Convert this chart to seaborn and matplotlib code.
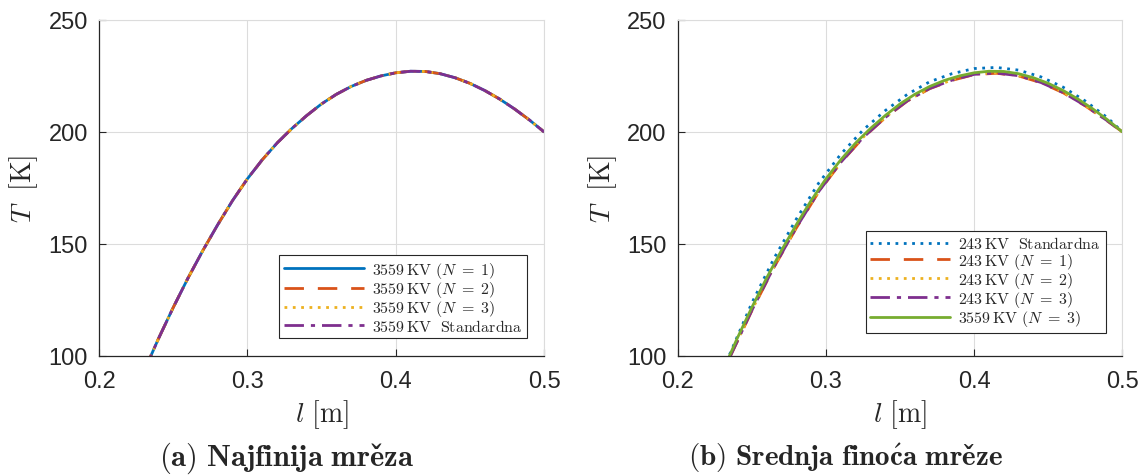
import matplotlib
matplotlib.use('Agg')
import matplotlib.pyplot as plt
import seaborn as sns
import numpy as np

# fine mesh (3559 KV) - all variants overlap
l_fine = [0.23, 0.24, 0.25, 0.26, 0.27, 0.28, 0.29, 0.30, 0.31, 0.32, 0.33, 0.34, 0.35, 0.36,
          0.37, 0.38, 0.39, 0.40, 0.41, 0.42, 0.43, 0.44, 0.45, 0.46, 0.47, 0.48, 0.49, 0.50]
T_fine = [92.5, 107.5, 121.5, 134.7, 147.0, 158.5, 169.3, 179.0, 187.5, 195.0, 201.5, 207.3, 212.5, 216.8,
          220.3, 223.0, 225.0, 226.4, 227.1, 227.0, 226.0, 224.2, 221.7, 218.5, 214.7, 210.3, 205.4, 200.0]

# medium mesh (243 KV)
l_243 = [0.235, 0.25, 0.265, 0.28, 0.295, 0.31, 0.325, 0.34, 0.355, 0.37,
         0.385, 0.40, 0.415, 0.43, 0.445, 0.46, 0.475, 0.49, 0.50]
T_243_std = [100.5, 123.5, 143.5, 161.0, 177.0, 190.0, 200.8, 209.5, 216.8, 222.4,
             226.0, 228.3, 228.8, 227.6, 224.6, 220.0, 213.8, 206.3, 200.0]
T_243_n1 = [99.0, 120.0, 139.5, 157.0, 173.0, 186.2, 197.3, 206.3, 213.8, 219.3,
            223.0, 225.6, 226.2, 225.0, 222.0, 217.5, 211.6, 204.8, 200.0]
T_243_n2 = [99.2, 120.3, 139.8, 157.3, 173.3, 186.5, 197.5, 206.5, 214.0, 219.5,
            223.2, 225.8, 226.4, 225.2, 222.2, 217.7, 211.8, 204.9, 200.0]
T_243_n3 = [99.1, 120.2, 139.7, 157.2, 173.2, 186.4, 197.4, 206.4, 213.9, 219.4,
            223.1, 225.7, 226.3, 225.1, 222.1, 217.6, 211.7, 204.9, 200.0]

blue, red, yellow, purple, green = '#0072BD', '#D95319', '#EDB120', '#7E2F8E', '#77AC30'

sns.set_theme(style='white')
plt.rcParams['font.family'] = ['Liberation Sans', 'DejaVu Sans']
plt.rcParams['mathtext.fontset'] = 'cm'

fig = plt.figure(figsize=(11.42, 4.77), dpi=100)
ax1 = fig.add_axes([0.0867, 0.2522, 0.3897, 0.7038])
ax2 = fig.add_axes([0.5934, 0.2522, 0.3894, 0.7038])

dashed = (0, (7, 5))
dotted = (0, (1, 2))
dashdot = (0, (7, 2.5, 1.5, 2.5))

# (a)
sns.lineplot(x=l_fine, y=T_fine, ax=ax1, color=blue, lw=2, ls='-', sort=False,
             label=r'$3559\,\mathrm{KV}\ (N\;=\;1)$')
sns.lineplot(x=l_fine, y=T_fine, ax=ax1, color=red, lw=2, ls=dashed, sort=False,
             label=r'$3559\,\mathrm{KV}\ (N\;=\;2)$')
sns.lineplot(x=l_fine, y=T_fine, ax=ax1, color=yellow, lw=2, ls=dotted, sort=False,
             label=r'$3559\,\mathrm{KV}\ (N\;=\;3)$')
sns.lineplot(x=l_fine, y=T_fine, ax=ax1, color=purple, lw=2, ls=dashdot, sort=False,
             label=r'$3559\,\mathrm{KV\ \ Standardna}$')

# (b)
sns.lineplot(x=l_243, y=T_243_std, ax=ax2, color=blue, lw=2, ls=dotted, sort=False,
             label=r'$243\,\mathrm{KV\ \ Standardna}$')
sns.lineplot(x=l_243, y=T_243_n1, ax=ax2, color=red, lw=2, ls=dashed, sort=False,
             label=r'$243\,\mathrm{KV}\ (N\;=\;1)$')
sns.lineplot(x=l_243, y=T_243_n2, ax=ax2, color=yellow, lw=2, ls=dotted, sort=False,
             label=r'$243\,\mathrm{KV}\ (N\;=\;2)$')
sns.lineplot(x=l_243, y=T_243_n3, ax=ax2, color=purple, lw=2, ls=dashdot, sort=False,
             label=r'$243\,\mathrm{KV}\ (N\;=\;3)$')
sns.lineplot(x=l_fine, y=T_fine, ax=ax2, color=green, lw=2, ls='-', sort=False,
             label=r'$3559\,\mathrm{KV}\ (N\;=\;3)$')

anchors = [(0.9625, 0.0518), (0.9627, 0.0676)]
for ax, anc in zip([ax1, ax2], anchors):
    ax.set_xlim(0.2, 0.5)
    ax.set_ylim(100, 250)
    ax.set_xticks([0.2, 0.3, 0.4, 0.5])
    ax.set_xticklabels(['0.2', '0.3', '0.4', '0.5'])
    ax.set_yticks([100, 150, 200, 250])
    ax.grid(True, color='#dcdcdc', lw=0.8)
    ax.tick_params(direction='in', length=5, width=0.8, labelsize=17, colors='#262626',
                   left=True, bottom=True)
    ax.tick_params(axis='x', pad=10)
    ax.tick_params(axis='y', pad=8)
    for s in ['left', 'bottom']:
        ax.spines[s].set_color('#262626')
        ax.spines[s].set_linewidth(0.9)
    for s in ['top', 'right']:
        ax.spines[s].set_color('#dcdcdc')
        ax.spines[s].set_linewidth(0.8)
    ax.set_xlabel(r'$l\ [\mathrm{m}]$', fontsize=20, labelpad=4)
    ax.set_ylabel(r'$T\ \ [\mathrm{K}]$', fontsize=20, labelpad=6)
    leg = ax.legend(loc='lower right', bbox_to_anchor=anc, borderaxespad=0, fontsize=11.5,
                    handlelength=5.0, labelspacing=-0.05, fancybox=False, framealpha=1,
                    edgecolor='#262626', borderpad=0.3, handletextpad=0.5)
    leg.get_frame().set_linewidth(0.8)

fig.text(0.2513, 0.024, r'$\mathbf{(a)\ Najfinija\ mre\check{z}a}$', ha='center', fontsize=22)
fig.text(0.7408, 0.024, r'$\mathbf{(b)\ Srednja\ fino\acute{c}a\ mre\check{z}e}$', ha='center', fontsize=21)

fig.savefig('out.png', dpi=100)
